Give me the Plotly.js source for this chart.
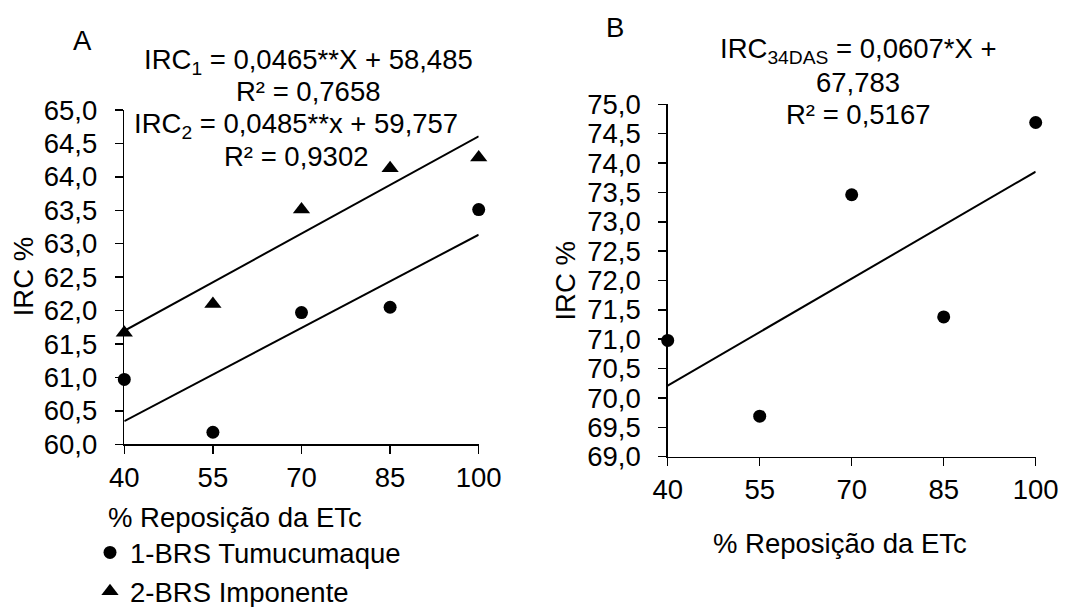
<!DOCTYPE html>
<html>
<head>
<meta charset="utf-8">
<script src="https://cdn.plot.ly/plotly-3.0.1.min.js"></script>
<style>html,body{margin:0;padding:0;background:#fff;}#chart{width:1092px;height:607px;}</style>
</head>
<body>
<div id="chart"></div>
<script>
// ---- data ----
const xLevels = [40, 55, 70, 85, 100];
const ircTumucumaque = [60.97, 60.18, 61.97, 62.05, 63.51];
const ircImponente = [61.67, 62.10, 63.51, 64.13, 64.29];
const irc34DAS = [70.98, 69.69, 73.46, 71.38, 74.69];
// regression coefficients printed on the chart
const fitA1 = {slope: 0.0465, intercept: 58.485};
const fitA2 = {slope: 0.0485, intercept: 59.757};
const fitB = {slope: 0.0607, intercept: 67.783};
const yTicksA = [60, 60.5, 61, 61.5, 62, 62.5, 63, 63.5, 64, 64.5, 65];
const yTicksB = [69, 69.5, 70, 70.5, 71, 71.5, 72, 72.5, 73, 73.5, 74, 74.5, 75];
const seriesNames = ['1-BRS Tumucumaque', '2-BRS Imponente'];

const W = 1092, H = 607;
const FONT = 'Liberation Sans, Arial, sans-serif';
const FS = 27.5;

const xEnds = [xLevels[0], xLevels[xLevels.length - 1]];
const fitLine = (f) => xEnds.map(x => f.slope * x + f.intercept);

const lineStyle = {color: '#000', width: 2};
const traces = [
  {x: xLevels, y: ircTumucumaque, type: 'scatter', mode: 'markers', name: seriesNames[0],
   marker: {symbol: 'circle', size: 13, color: '#000'}, cliponaxis: false, xaxis: 'x', yaxis: 'y'},
  {x: xLevels, y: ircImponente, type: 'scatter', mode: 'markers', name: seriesNames[1],
   marker: {symbol: 'triangle-up', size: 15, color: '#000'}, cliponaxis: false, xaxis: 'x', yaxis: 'y'},
  {x: xEnds, y: fitLine(fitA1), type: 'scatter', mode: 'lines', line: lineStyle, showlegend: false, xaxis: 'x', yaxis: 'y'},
  {x: xEnds, y: fitLine(fitA2), type: 'scatter', mode: 'lines', line: lineStyle, showlegend: false, xaxis: 'x', yaxis: 'y'},
  {x: xLevels, y: irc34DAS, type: 'scatter', mode: 'markers', showlegend: false,
   marker: {symbol: 'circle', size: 13, color: '#000'}, cliponaxis: false, xaxis: 'x2', yaxis: 'y2'},
  {x: xEnds, y: fitLine(fitB), type: 'scatter', mode: 'lines', line: lineStyle, showlegend: false, xaxis: 'x2', yaxis: 'y2'}
];

const px = (v) => v / W;
const py = (v) => 1 - v / H;

const axisCommon = {
  showline: true, linecolor: '#000', linewidth: 1.5, showgrid: false, zeroline: false,
  ticks: 'outside', ticklen: 8, tickwidth: 1.5, tickcolor: '#000',
  tickfont: {family: FONT, size: FS, color: '#000'}, fixedrange: true
};

const ann = (text, x, y, extra) => Object.assign({
  text: text, x: px(x), y: py(y), xref: 'paper', yref: 'paper', showarrow: false,
  xanchor: 'center', yanchor: 'middle', font: {family: FONT, size: FS, color: '#000'}
}, extra || {});

const layout = {
  width: W, height: H,
  margin: {l: 0, r: 0, t: 0, b: 0, autoexpand: false},
  paper_bgcolor: '#fff', plot_bgcolor: 'rgba(0,0,0,0)',
  separators: ',.',
  showlegend: true,
  legend: {x: px(90), y: py(528), xanchor: 'left', yanchor: 'top',
           font: {family: FONT, size: FS, color: '#000'}, bgcolor: 'rgba(0,0,0,0)', tracegroupgap: 0},
  xaxis: Object.assign({}, axisCommon, {domain: [px(124.3), px(478.7)], range: [40, 100],
    tickvals: xLevels, ticklabelstandoff: 0, anchor: 'y'}),
  yaxis: Object.assign({}, axisCommon, {domain: [py(444.3), py(110)], range: [60, 65],
    tickvals: yTicksA, tickformat: '.1f', ticklabelstandoff: 12, anchor: 'x'}),
  xaxis2: Object.assign({}, axisCommon, {domain: [px(667.7), px(1035.7)], range: [40, 100],
    tickvals: xLevels, ticklabelstandoff: 0, anchor: 'y2'}),
  yaxis2: Object.assign({}, axisCommon, {domain: [py(456.7), py(104.3)], range: [69, 75],
    tickvals: yTicksB, tickformat: '.1f', ticklabelstandoff: 12, anchor: 'x2'}),
  annotations: [
    ann('A', 82, 41),
    ann('IRC<sub>1</sub> = 0,0465**X + 58,485', 308, 61),
    ann('R² = 0,7658', 308, 92),
    ann('IRC<sub>2</sub> = 0,0485**x + 59,757', 296, 125),
    ann('R² = 0,9302', 296, 156),
    ann('B', 615.3, 27.5),
    ann('IRC<sub>34DAS</sub> = 0,0607*X +', 858.3, 50),
    ann('67,783', 858.3, 82),
    ann('R² = 0,5167', 858.3, 114),
    ann('% Reposição da ETc', 235, 517),
    ann('% Reposição da ETc', 840, 543.3),
    ann('IRC %', 23.3, 277, {textangle: -90}),
    ann('IRC %', 565.8, 280.8, {textangle: -90})
  ]
};

Plotly.newPlot('chart', traces, layout, {displayModeBar: false, staticPlot: true});
</script>
</body>
</html>
